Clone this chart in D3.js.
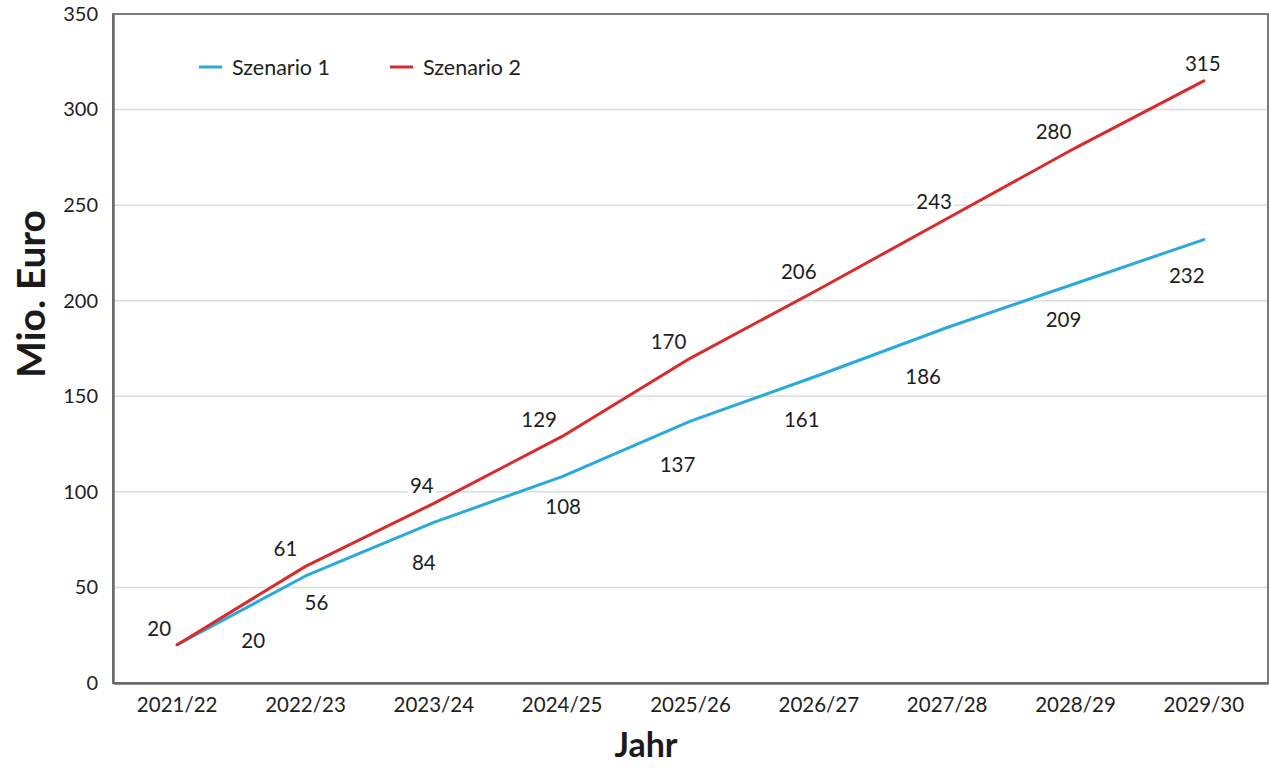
<!DOCTYPE html>
<html>
<head>
<meta charset="utf-8">
<script src="https://cdn.jsdelivr.net/npm/d3@7"></script>
<style>
  html, body { margin: 0; padding: 0; background: #fff; }
  svg { display: block; font-family: Lato, "Open Sans", sans-serif; }
</style>
</head>
<body>
<svg id="chart" width="1269" height="768"></svg>
<script>
// ---- data ----
const categories = ["2021/22", "2022/23", "2023/24", "2024/25", "2025/26", "2026/27", "2027/28", "2028/29", "2029/30"];
const szenario1 = [20, 56, 84, 108, 137, 161, 186, 209, 232];
const szenario2 = [20, 61, 94, 129, 170, 206, 243, 280, 315];
const seriesNames = ["Szenario 1", "Szenario 2"];
const yTicks = [0, 50, 100, 150, 200, 250, 300, 350];
const yTitle = "Mio. Euro";
const xTitle = "Jahr";
// label nudges (text centre relative to point), per point
const nudge1 = [[76, -5], [11, 26], [-10, 40], [1, 29], [-13, 43], [-17, 44], [-24, 49], [-12, 35], [-17, 35]];
const nudge2 = [[-18, -17], [-20, -18], [-12, -18], [-23, -17], [-22, -17], [-20, -18], [-13, -18], [-22, -17], [-1, -18]];

const colors = ["#2aa9dd", "#da2a2c"];

const svg = d3.select("#chart");
const M = { left: 113, right: 1268, top: 14, bottom: 683 };

const x = d3.scaleBand().domain(categories).range([M.left, M.right]).padding(0);
const y = d3.scaleLinear().domain([0, 350]).range([M.bottom, M.top]);
const cx = c => x(c) + x.bandwidth() / 2;

// gridlines
svg.append("g").selectAll("line").data(yTicks.filter(t => t > 0 && t < 350)).join("line")
  .attr("x1", M.left).attr("x2", M.right)
  .attr("y1", d => y(d)).attr("y2", d => y(d))
  .attr("stroke", "#dcdcdc").attr("stroke-width", 1.5);

// frame
svg.append("rect")
  .attr("x", M.left).attr("y", M.top)
  .attr("width", M.right - M.left).attr("height", M.bottom - M.top)
  .attr("fill", "none").attr("stroke", "#7a7a7a").attr("stroke-width", 2);

// y axis
const yAxis = d3.axisLeft(y).tickValues(yTicks).tickSize(0).tickPadding(15);
const gy = svg.append("g").attr("transform", `translate(${M.left},0)`).call(yAxis);
gy.select(".domain").attr("stroke", "#6a6a6a").attr("stroke-width", 2.5);
gy.selectAll("text").attr("font-size", 20).attr("fill", "#1e1e1e").attr("font-family", "Lato, sans-serif");

// x axis
const xAxis = d3.axisBottom(x).tickSize(0).tickPadding(14);
const gx = svg.append("g").attr("transform", `translate(0,${M.bottom})`).call(xAxis);
gx.select(".domain").attr("stroke", "#6a6a6a").attr("stroke-width", 2.5);
gx.selectAll("text").attr("font-size", 20.5).attr("fill", "#1e1e1e").attr("font-family", "Lato, sans-serif");

// axis titles
svg.append("text")
  .attr("transform", `translate(30,294) rotate(-90)`)
  .attr("text-anchor", "middle").attr("dominant-baseline", "central")
  .attr("font-size", 39).attr("font-weight", "bold").attr("fill", "#1a1a1a")
  .text(yTitle);
svg.append("text")
  .attr("x", 646).attr("y", 757)
  .attr("text-anchor", "middle")
  .attr("font-size", 34).attr("font-weight", "bold").attr("fill", "#1a1a1a")
  .text(xTitle);

// lines
const allSeries = [szenario1, szenario2];
const line = d3.line().x((d, i) => cx(categories[i])).y(d => y(d)).curve(d3.curveLinear);
allSeries.forEach((s, k) => {
  svg.append("path").datum(s)
    .attr("d", line)
    .attr("fill", "none")
    .attr("stroke", colors[k]).attr("stroke-width", 3)
    .attr("stroke-linecap", "round").attr("stroke-linejoin", "round");
});

// data labels
const nudges = [nudge1, nudge2];
allSeries.forEach((s, k) => {
  const g = svg.append("g");
  s.forEach((v, i) => {
    const tx = cx(categories[i]) + nudges[k][i][0];
    const ty = y(v) + nudges[k][i][1];
    const t = g.append("text")
      .attr("x", tx).attr("y", ty)
      .attr("text-anchor", "middle").attr("dominant-baseline", "central")
      .attr("font-size", 20.5).attr("fill", "#1e1e1e")
      .text(v);
    const bb = t.node().getBBox();
    g.insert("rect", "text")
      .attr("x", bb.x - 2).attr("y", bb.y).attr("width", bb.width + 4).attr("height", bb.height)
      .attr("fill", "#fff");
  });
});

// legend
const legendX = [199, 390];
seriesNames.forEach((name, k) => {
  svg.append("line")
    .attr("x1", legendX[k]).attr("x2", legendX[k] + 23)
    .attr("y1", 67).attr("y2", 67)
    .attr("stroke", colors[k]).attr("stroke-width", 3);
  svg.append("text")
    .attr("x", legendX[k] + 33).attr("y", 67)
    .attr("dominant-baseline", "central")
    .attr("font-size", 21.5).attr("fill", "#1e1e1e")
    .text(name);
});
</script>
</body>
</html>
